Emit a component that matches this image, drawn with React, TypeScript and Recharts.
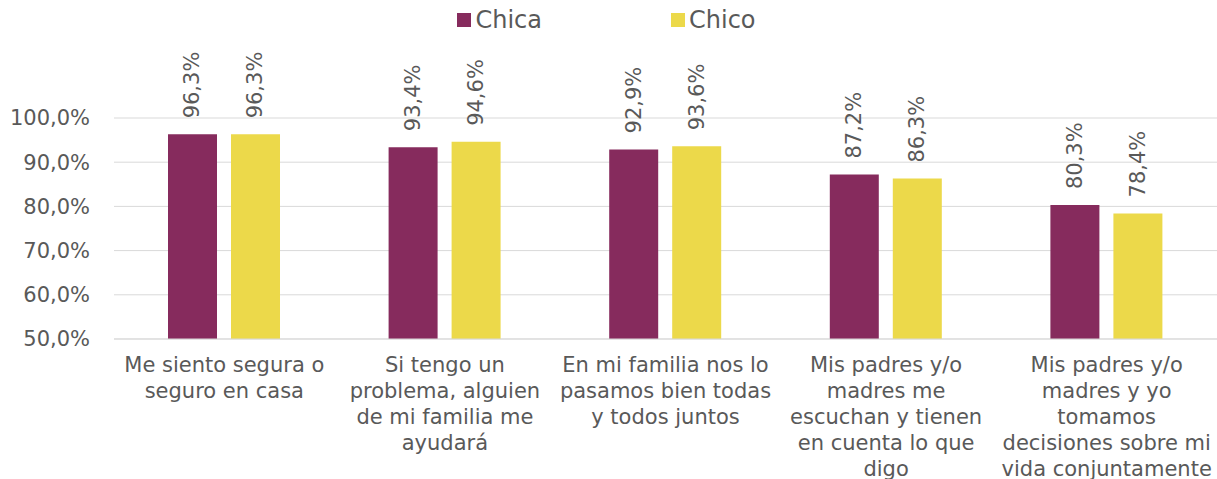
import React from "react";
import { BarChart, Bar, XAxis, YAxis, CartesianGrid, Legend, LabelList } from "recharts";

const categories = [
  "Me siento segura o\nseguro en casa",
  "Si tengo un\nproblema, alguien\nde mi familia me\nayudará",
  "En mi familia nos lo\npasamos bien todas\ny todos juntos",
  "Mis padres y/o\nmadres me\nescuchan y tienen\nen cuenta lo que\ndigo",
  "Mis padres y/o\nmadres y yo\ntomamos\ndecisiones sobre mi\nvida conjuntamente",
];
const chica = [96.3, 93.4, 92.9, 87.2, 80.3];
const chico = [96.3, 94.6, 93.6, 86.3, 78.4];
const yTicks = [50, 60, 70, 80, 90, 100];

const data = categories.map((c, i) => ({ cat: c, chica: chica[i], chico: chico[i] }));

const FONT = "'DejaVu Sans', sans-serif";
const TEXT = "#595959";
const COL_CHICA = "#862B5D";
const COL_CHICO = "#ECD94A";

const fmt = (v: number) => v.toFixed(1).replace(".", ",") + "%";

const CatTick = (props: any) => {
  const { x, y, payload } = props;
  const lines = String(payload.value).split("\n");
  return (
    <text x={x} y={y} textAnchor="middle" fill={TEXT} fontSize={21} fontFamily={FONT}>
      {lines.map((l, i) => (
        <tspan key={i} x={x} dy={i === 0 ? 33 : 26}>
          {l}
        </tspan>
      ))}
    </text>
  );
};

const BarLabel = (props: any) => {
  const { x, y, width, value } = props;
  const cx = x + width / 2;
  const ty = y - 16;
  return (
    <text
      x={cx}
      y={ty}
      transform={`rotate(-90 ${cx} ${ty})`}
      textAnchor="start"
      dominantBaseline="central"
      fill={TEXT}
      fontSize={21}
      fontFamily={FONT}
    >
      {fmt(value)}
    </text>
  );
};

const LegendContent = (props: any) => {
  const { payload } = props;
  return (
    <div style={{ display: "flex", justifyContent: "center", gap: 129, fontFamily: FONT, fontSize: 24, color: TEXT, paddingRight: 4 }}>
      {(payload || []).map((p: any, i: number) => (
        <div key={i} style={{ display: "flex", alignItems: "center" }}>
          <span style={{ display: "inline-block", width: 14, height: 14, background: p.color, marginRight: 4 }} />
          <span>{p.value}</span>
        </div>
      ))}
    </div>
  );
};

export default function App() {
  return (
    <div style={{ position: "fixed", left: 0, top: 0, width: 1217, height: 479, background: "#fff" }}>
      <BarChart
        width={1217}
        height={479}
        data={data}
        margin={{ top: 118, right: 0, bottom: 0, left: 2 }}
        barGap={14}
      >
        <CartesianGrid vertical={false} stroke="#d9d9d9" strokeWidth={1} />
        <XAxis
          dataKey="cat"
          height={140}
          tickLine={false}
          axisLine={{ stroke: "#d9d9d9" }}
          tickSize={0}
          tickMargin={0}
          interval={0}
          tick={<CatTick />}
        />
        <YAxis
          width={112}
          domain={[50, 100]}
          ticks={yTicks}
          axisLine={false}
          tickLine={false}
          tickMargin={18}
          tickFormatter={fmt}
          tick={{ fill: TEXT, fontSize: 21, fontFamily: FONT }}
        />
        <Legend
          verticalAlign="middle"
          align="center"
          wrapperStyle={{ top: 6, left: 0, width: 1217 }}
          content={<LegendContent />}
        />
        <Bar dataKey="chica" name="Chica" fill={COL_CHICA} barSize={49} isAnimationActive={false}>
          <LabelList dataKey="chica" content={<BarLabel />} />
        </Bar>
        <Bar dataKey="chico" name="Chico" fill={COL_CHICO} barSize={49} isAnimationActive={false}>
          <LabelList dataKey="chico" content={<BarLabel />} />
        </Bar>
      </BarChart>
    </div>
  );
}
